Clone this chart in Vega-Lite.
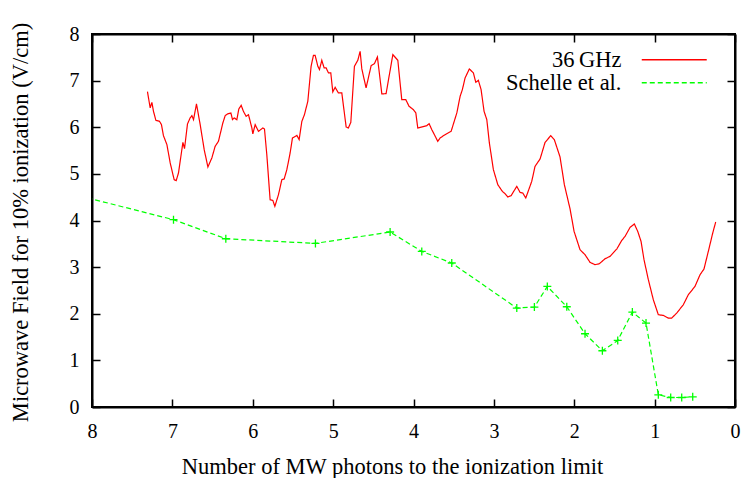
{
  "$schema": "https://vega.github.io/schema/vega-lite/v6.json",
  "width": 643,
  "height": 373,
  "autosize": {"type": "none"},
  "padding": {"left": 92, "top": 34, "right": 9, "bottom": 71},
  "background": "white",
  "config": {"view": {"stroke": "black", "strokeWidth": 2}, "font": "Liberation Serif", "legend": {"rowPadding": -6}},
  "data": {"values": [
    {"series": "36\u2009GHz", "photons": 7.310, "field": 6.764},
    {"series": "36\u2009GHz", "photons": 7.276, "field": 6.414},
    {"series": "36\u2009GHz", "photons": 7.255, "field": 6.534},
    {"series": "36\u2009GHz", "photons": 7.235, "field": 6.341},
    {"series": "36\u2009GHz", "photons": 7.205, "field": 6.148},
    {"series": "36\u2009GHz", "photons": 7.160, "field": 6.127},
    {"series": "36\u2009GHz", "photons": 7.136, "field": 6.056},
    {"series": "36\u2009GHz", "photons": 7.111, "field": 5.820},
    {"series": "36\u2009GHz", "photons": 7.068, "field": 5.627},
    {"series": "36\u2009GHz", "photons": 7.027, "field": 5.234},
    {"series": "36\u2009GHz", "photons": 6.978, "field": 4.876},
    {"series": "36\u2009GHz", "photons": 6.953, "field": 4.854},
    {"series": "36\u2009GHz", "photons": 6.924, "field": 5.019},
    {"series": "36\u2009GHz", "photons": 6.869, "field": 5.676},
    {"series": "36\u2009GHz", "photons": 6.849, "field": 5.541},
    {"series": "36\u2009GHz", "photons": 6.812, "field": 6.071},
    {"series": "36\u2009GHz", "photons": 6.779, "field": 6.200},
    {"series": "36\u2009GHz", "photons": 6.757, "field": 6.249},
    {"series": "36\u2009GHz", "photons": 6.737, "field": 6.163},
    {"series": "36\u2009GHz", "photons": 6.700, "field": 6.500},
    {"series": "36\u2009GHz", "photons": 6.654, "field": 6.056},
    {"series": "36\u2009GHz", "photons": 6.604, "field": 5.519},
    {"series": "36\u2009GHz", "photons": 6.558, "field": 5.148},
    {"series": "36\u2009GHz", "photons": 6.509, "field": 5.341},
    {"series": "36\u2009GHz", "photons": 6.468, "field": 5.590},
    {"series": "36\u2009GHz", "photons": 6.427, "field": 5.697},
    {"series": "36\u2009GHz", "photons": 6.372, "field": 6.092},
    {"series": "36\u2009GHz", "photons": 6.343, "field": 6.249},
    {"series": "36\u2009GHz", "photons": 6.315, "field": 6.285},
    {"series": "36\u2009GHz", "photons": 6.272, "field": 6.307},
    {"series": "36\u2009GHz", "photons": 6.252, "field": 6.163},
    {"series": "36\u2009GHz", "photons": 6.231, "field": 6.200},
    {"series": "36\u2009GHz", "photons": 6.198, "field": 6.163},
    {"series": "36\u2009GHz", "photons": 6.173, "field": 6.393},
    {"series": "36\u2009GHz", "photons": 6.144, "field": 6.470},
    {"series": "36\u2009GHz", "photons": 6.116, "field": 6.341},
    {"series": "36\u2009GHz", "photons": 6.082, "field": 6.234},
    {"series": "36\u2009GHz", "photons": 6.053, "field": 6.270},
    {"series": "36\u2009GHz", "photons": 6.011, "field": 5.985},
    {"series": "36\u2009GHz", "photons": 5.999, "field": 5.856},
    {"series": "36\u2009GHz", "photons": 5.970, "field": 6.056},
    {"series": "36\u2009GHz", "photons": 5.929, "field": 5.912},
    {"series": "36\u2009GHz", "photons": 5.874, "field": 5.985},
    {"series": "36\u2009GHz", "photons": 5.854, "field": 5.963},
    {"series": "36\u2009GHz", "photons": 5.825, "field": 5.412},
    {"series": "36\u2009GHz", "photons": 5.784, "field": 4.446},
    {"series": "36\u2009GHz", "photons": 5.750, "field": 4.431},
    {"series": "36\u2009GHz", "photons": 5.725, "field": 4.303},
    {"series": "36\u2009GHz", "photons": 5.680, "field": 4.554},
    {"series": "36\u2009GHz", "photons": 5.638, "field": 4.876},
    {"series": "36\u2009GHz", "photons": 5.609, "field": 4.891},
    {"series": "36\u2009GHz", "photons": 5.576, "field": 5.090},
    {"series": "36\u2009GHz", "photons": 5.543, "field": 5.376},
    {"series": "36\u2009GHz", "photons": 5.535, "field": 5.448},
    {"series": "36\u2009GHz", "photons": 5.506, "field": 5.770},
    {"series": "36\u2009GHz", "photons": 5.451, "field": 5.826},
    {"series": "36\u2009GHz", "photons": 5.423, "field": 5.734},
    {"series": "36\u2009GHz", "photons": 5.389, "field": 6.127},
    {"series": "36\u2009GHz", "photons": 5.357, "field": 6.270},
    {"series": "36\u2009GHz", "photons": 5.315, "field": 6.556},
    {"series": "36\u2009GHz", "photons": 5.274, "field": 7.307},
    {"series": "36\u2009GHz", "photons": 5.245, "field": 7.543},
    {"series": "36\u2009GHz", "photons": 5.224, "field": 7.543},
    {"series": "36\u2009GHz", "photons": 5.190, "field": 7.307},
    {"series": "36\u2009GHz", "photons": 5.170, "field": 7.236},
    {"series": "36\u2009GHz", "photons": 5.141, "field": 7.436},
    {"series": "36\u2009GHz", "photons": 5.112, "field": 7.273},
    {"series": "36\u2009GHz", "photons": 5.087, "field": 7.273},
    {"series": "36\u2009GHz", "photons": 5.058, "field": 7.165},
    {"series": "36\u2009GHz", "photons": 5.029, "field": 7.165},
    {"series": "36\u2009GHz", "photons": 5.004, "field": 6.758},
    {"series": "36\u2009GHz", "photons": 4.975, "field": 6.856},
    {"series": "36\u2009GHz", "photons": 4.934, "field": 6.736},
    {"series": "36\u2009GHz", "photons": 4.892, "field": 6.736},
    {"series": "36\u2009GHz", "photons": 4.838, "field": 6.006},
    {"series": "36\u2009GHz", "photons": 4.810, "field": 5.985},
    {"series": "36\u2009GHz", "photons": 4.780, "field": 6.105},
    {"series": "36\u2009GHz", "photons": 4.735, "field": 7.307},
    {"series": "36\u2009GHz", "photons": 4.693, "field": 7.436},
    {"series": "36\u2009GHz", "photons": 4.664, "field": 7.629},
    {"series": "36\u2009GHz", "photons": 4.643, "field": 7.251},
    {"series": "36\u2009GHz", "photons": 4.590, "field": 6.843},
    {"series": "36\u2009GHz", "photons": 4.527, "field": 7.322},
    {"series": "36\u2009GHz", "photons": 4.486, "field": 7.365},
    {"series": "36\u2009GHz", "photons": 4.449, "field": 7.509},
    {"series": "36\u2009GHz", "photons": 4.394, "field": 6.715},
    {"series": "36\u2009GHz", "photons": 4.341, "field": 6.721},
    {"series": "36\u2009GHz", "photons": 4.257, "field": 7.558},
    {"series": "36\u2009GHz", "photons": 4.195, "field": 7.436},
    {"series": "36\u2009GHz", "photons": 4.146, "field": 6.592},
    {"series": "36\u2009GHz", "photons": 4.096, "field": 6.592},
    {"series": "36\u2009GHz", "photons": 4.055, "field": 6.449},
    {"series": "36\u2009GHz", "photons": 4.001, "field": 6.378},
    {"series": "36\u2009GHz", "photons": 3.971, "field": 6.307},
    {"series": "36\u2009GHz", "photons": 3.947, "field": 5.985},
    {"series": "36\u2009GHz", "photons": 3.835, "field": 6.034},
    {"series": "36\u2009GHz", "photons": 3.806, "field": 6.077},
    {"series": "36\u2009GHz", "photons": 3.772, "field": 5.948},
    {"series": "36\u2009GHz", "photons": 3.740, "field": 5.841},
    {"series": "36\u2009GHz", "photons": 3.698, "field": 5.697},
    {"series": "36\u2009GHz", "photons": 3.669, "field": 5.770},
    {"series": "36\u2009GHz", "photons": 3.607, "field": 5.841},
    {"series": "36\u2009GHz", "photons": 3.532, "field": 5.912},
    {"series": "36\u2009GHz", "photons": 3.461, "field": 6.307},
    {"series": "36\u2009GHz", "photons": 3.420, "field": 6.663},
    {"series": "36\u2009GHz", "photons": 3.392, "field": 6.807},
    {"series": "36\u2009GHz", "photons": 3.358, "field": 7.058},
    {"series": "36\u2009GHz", "photons": 3.305, "field": 7.251},
    {"series": "36\u2009GHz", "photons": 3.255, "field": 7.165},
    {"series": "36\u2009GHz", "photons": 3.225, "field": 6.964},
    {"series": "36\u2009GHz", "photons": 3.193, "field": 7.006},
    {"series": "36\u2009GHz", "photons": 3.159, "field": 6.807},
    {"series": "36\u2009GHz", "photons": 3.122, "field": 6.341},
    {"series": "36\u2009GHz", "photons": 3.088, "field": 6.163},
    {"series": "36\u2009GHz", "photons": 3.056, "field": 5.663},
    {"series": "36\u2009GHz", "photons": 3.006, "field": 5.090},
    {"series": "36\u2009GHz", "photons": 2.951, "field": 4.768},
    {"series": "36\u2009GHz", "photons": 2.894, "field": 4.624},
    {"series": "36\u2009GHz", "photons": 2.861, "field": 4.575},
    {"series": "36\u2009GHz", "photons": 2.827, "field": 4.504},
    {"series": "36\u2009GHz", "photons": 2.786, "field": 4.532},
    {"series": "36\u2009GHz", "photons": 2.715, "field": 4.732},
    {"series": "36\u2009GHz", "photons": 2.674, "field": 4.603},
    {"series": "36\u2009GHz", "photons": 2.641, "field": 4.590},
    {"series": "36\u2009GHz", "photons": 2.603, "field": 4.483},
    {"series": "36\u2009GHz", "photons": 2.529, "field": 4.839},
    {"series": "36\u2009GHz", "photons": 2.488, "field": 5.161},
    {"series": "36\u2009GHz", "photons": 2.425, "field": 5.320},
    {"series": "36\u2009GHz", "photons": 2.363, "field": 5.676},
    {"series": "36\u2009GHz", "photons": 2.292, "field": 5.820},
    {"series": "36\u2009GHz", "photons": 2.248, "field": 5.734},
    {"series": "36\u2009GHz", "photons": 2.177, "field": 5.363},
    {"series": "36\u2009GHz", "photons": 2.123, "field": 4.768},
    {"series": "36\u2009GHz", "photons": 2.052, "field": 4.247},
    {"series": "36\u2009GHz", "photons": 2.002, "field": 3.766},
    {"series": "36\u2009GHz", "photons": 1.928, "field": 3.373},
    {"series": "36\u2009GHz", "photons": 1.866, "field": 3.266},
    {"series": "36\u2009GHz", "photons": 1.803, "field": 3.101},
    {"series": "36\u2009GHz", "photons": 1.741, "field": 3.052},
    {"series": "36\u2009GHz", "photons": 1.688, "field": 3.073},
    {"series": "36\u2009GHz", "photons": 1.617, "field": 3.180},
    {"series": "36\u2009GHz", "photons": 1.555, "field": 3.230},
    {"series": "36\u2009GHz", "photons": 1.471, "field": 3.388},
    {"series": "36\u2009GHz", "photons": 1.409, "field": 3.573},
    {"series": "36\u2009GHz", "photons": 1.368, "field": 3.659},
    {"series": "36\u2009GHz", "photons": 1.306, "field": 3.852},
    {"series": "36\u2009GHz", "photons": 1.252, "field": 3.925},
    {"series": "36\u2009GHz", "photons": 1.210, "field": 3.766},
    {"series": "36\u2009GHz", "photons": 1.169, "field": 3.552},
    {"series": "36\u2009GHz", "photons": 1.132, "field": 3.159},
    {"series": "36\u2009GHz", "photons": 1.078, "field": 2.730},
    {"series": "36\u2009GHz", "photons": 1.016, "field": 2.300},
    {"series": "36\u2009GHz", "photons": 0.954, "field": 1.979},
    {"series": "36\u2009GHz", "photons": 0.892, "field": 1.964},
    {"series": "36\u2009GHz", "photons": 0.830, "field": 1.908},
    {"series": "36\u2009GHz", "photons": 0.787, "field": 1.908},
    {"series": "36\u2009GHz", "photons": 0.725, "field": 2.015},
    {"series": "36\u2009GHz", "photons": 0.643, "field": 2.193},
    {"series": "36\u2009GHz", "photons": 0.581, "field": 2.408},
    {"series": "36\u2009GHz", "photons": 0.498, "field": 2.586},
    {"series": "36\u2009GHz", "photons": 0.435, "field": 2.837},
    {"series": "36\u2009GHz", "photons": 0.386, "field": 2.959},
    {"series": "36\u2009GHz", "photons": 0.332, "field": 3.337},
    {"series": "36\u2009GHz", "photons": 0.277, "field": 3.732},
    {"series": "36\u2009GHz", "photons": 0.240, "field": 3.968},
    {"series": "Schelle et al.", "photons": 8.25, "field": 4.57},
    {"series": "Schelle et al.", "photons": 6.986, "field": 4.017},
    {"series": "Schelle et al.", "photons": 6.335, "field": 3.609},
    {"series": "Schelle et al.", "photons": 5.220, "field": 3.509},
    {"series": "Schelle et al.", "photons": 4.291, "field": 3.753},
    {"series": "Schelle et al.", "photons": 3.897, "field": 3.337},
    {"series": "Schelle et al.", "photons": 3.524, "field": 3.088},
    {"series": "Schelle et al.", "photons": 2.715, "field": 2.122},
    {"series": "Schelle et al.", "photons": 2.496, "field": 2.144},
    {"series": "Schelle et al.", "photons": 2.335, "field": 2.586},
    {"series": "Schelle et al.", "photons": 2.093, "field": 2.150},
    {"series": "Schelle et al.", "photons": 1.866, "field": 1.571},
    {"series": "Schelle et al.", "photons": 1.650, "field": 1.206},
    {"series": "Schelle et al.", "photons": 1.459, "field": 1.427},
    {"series": "Schelle et al.", "photons": 1.277, "field": 2.036},
    {"series": "Schelle et al.", "photons": 1.107, "field": 1.800},
    {"series": "Schelle et al.", "photons": 0.954, "field": 0.262},
    {"series": "Schelle et al.", "photons": 0.800, "field": 0.204},
    {"series": "Schelle et al.", "photons": 0.663, "field": 0.204},
    {"series": "Schelle et al.", "photons": 0.526, "field": 0.219}
  ]},
  "layer": [
    {
      "mark": {"type": "line", "clip": true, "strokeWidth": 1.2},
      "encoding": {
        "x": {
          "field": "photons", "type": "quantitative",
          "scale": {"domain": [0, 8], "reverse": true, "nice": false, "zero": false},
          "axis": {
            "orient": "bottom", "values": [0, 1, 2, 3, 4, 5, 6, 7, 8], "format": "d",
            "grid": false, "domain": true, "domainColor": "black", "domainWidth": 2,
            "ticks": true, "tickSize": -8, "tickColor": "black", "tickWidth": 1.5,
            "labelPadding": 38, "labelBaseline": "alphabetic", "labelFont": "Liberation Serif",
            "labelFontSize": 20, "labelColor": "black", "labelFlush": false, "labelOverlap": false,
            "title": "Number of MW photons to the ionization limit",
            "titleFont": "Liberation Serif", "titleFontSize": 22.5, "titleFontWeight": "normal",
            "titleColor": "black", "titleX": 300, "titleY": 66, "titleBaseline": "alphabetic", "titleAlign": "center"
          }
        },
        "y": {
          "field": "field", "type": "quantitative",
          "scale": {"domain": [0, 8], "nice": false},
          "axis": {
            "orient": "left", "values": [0, 1, 2, 3, 4, 5, 6, 7, 8], "format": "d",
            "grid": false, "domain": true, "domainColor": "black", "domainWidth": 2,
            "ticks": true, "tickSize": -8, "tickColor": "black", "tickWidth": 1.5,
            "labelPadding": 21, "labelFont": "Liberation Serif",
            "labelFontSize": 20, "labelColor": "black", "labelFlush": false, "labelOverlap": false,
            "title": "Microwave Field for 10% ionization (V/cm)",
            "titleFont": "Liberation Serif", "titleFontSize": 22.5, "titleFontWeight": "normal",
            "titleColor": "black", "titleX": -65, "titleY": 188, "titleAngle": -90,
            "titleBaseline": "alphabetic", "titleAlign": "center"
          }
        },
        "color": {
          "field": "series", "type": "nominal",
          "scale": {"domain": ["36\u2009GHz", "Schelle et al."], "range": ["#ff0000", "#00ff00"]},
          "legend": {
            "title": null, "orient": "none", "legendX": 571, "legendY": 14.5, "direction": "vertical",
            "symbolType": "M-8,0H8", "symbolSize": 66, "symbolStrokeWidth": 1.5,
            "labelAlign": "right", "labelOffset": -64, "labelFont": "Liberation Serif",
            "labelFontSize": 22.5, "labelColor": "black", "rowPadding": -6,
            "padding": 0, "labelLimit": 0
          }
        },
        "strokeDash": {
          "field": "series", "type": "nominal",
          "scale": {"domain": ["36\u2009GHz", "Schelle et al."], "range": [[1, 0], [5, 3]]},
          "legend": {
            "title": null, "orient": "none", "legendX": 571, "legendY": 14.5, "direction": "vertical",
            "symbolType": "M-8,0H8", "symbolSize": 66, "symbolStrokeWidth": 1.5,
            "labelAlign": "right", "labelOffset": -64, "labelFont": "Liberation Serif",
            "labelFontSize": 22.5, "labelColor": "black", "rowPadding": -6,
            "padding": 0, "labelLimit": 0
          }
        }
      }
    },
    {
      "transform": [{"filter": "datum.series === 'Schelle et al.'"}],
      "mark": {"type": "point", "shape": "M-1,0H1M0,-1V1", "filled": false, "stroke": "#00ff00", "strokeWidth": 1.3, "size": 64, "opacity": 1, "clip": true},
      "encoding": {
        "x": {
          "field": "photons", "type": "quantitative",
          "scale": {"domain": [0, 8], "reverse": true, "nice": false, "zero": false},
          "axis": {
            "orient": "top", "values": [0, 1, 2, 3, 4, 5, 6, 7, 8], "labels": false, "title": null,
            "grid": false, "domain": true, "domainColor": "black", "domainWidth": 2,
            "ticks": true, "tickSize": -8, "tickColor": "black", "tickWidth": 1.5
          }
        },
        "y": {
          "field": "field", "type": "quantitative",
          "scale": {"domain": [0, 8], "nice": false},
          "axis": {
            "orient": "right", "values": [0, 1, 2, 3, 4, 5, 6, 7, 8], "labels": false, "title": null,
            "grid": false, "domain": true, "domainColor": "black", "domainWidth": 2,
            "ticks": true, "tickSize": -8, "tickColor": "black", "tickWidth": 1.5
          }
        }
      }
    }
  ],
  "resolve": {"axis": {"x": "independent", "y": "independent"}}
}
